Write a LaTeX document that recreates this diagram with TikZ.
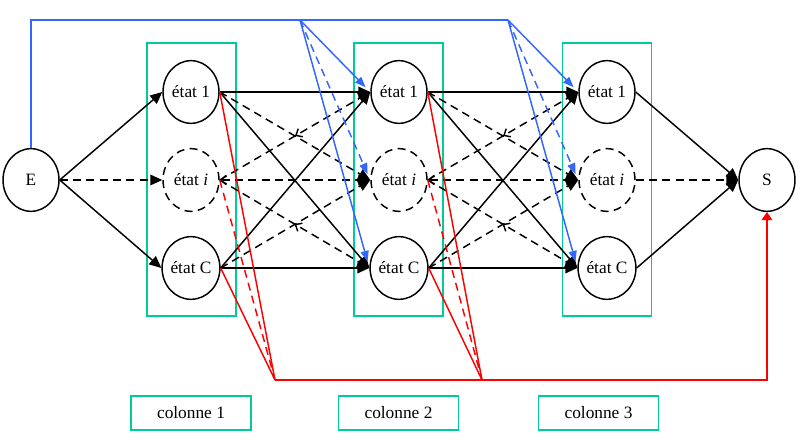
\documentclass[tikz,border=0pt]{standalone}
\usepackage{fontspec}
\setmainfont{Liberation Serif}
\usepackage{tikz}
\usetikzlibrary{arrows.meta,shapes.geometric,decorations.markings}

\definecolor{colgreen}{RGB}{0,204,153}
\definecolor{linkblue}{RGB}{51,102,255}

\begin{document}
\begin{tikzpicture}[>={Triangle[length=9pt,width=8pt]},x=0.75pt,y=-0.75pt,
                    line width=1.1pt,dashed/.style={dash pattern=on 6pt off 4pt},
                    main node/.style={ellipse,draw,minimum width=42pt,minimum height=47pt,
                                      inner sep=0pt,font=\fontsize{13}{15}\selectfont},
                    col box/.style={draw=colgreen,minimum width=66.75pt,minimum height=204.75pt},
                    name box/.style={draw=colgreen,minimum width=90pt,minimum height=25.5pt,
                                     font=\fontsize{13}{15}\selectfont},
                    back/.style={arrows={{Straight Barb[length=4pt,width=7pt]}->}},
                    mid back/.style={postaction={decorate},decoration={markings,
                        mark=at position 0.5 with {\arrowreversed{Straight Barb[length=4pt,width=7pt]}}}}]

      \useasboundingbox (0,0) rectangle (801,441);

      \node[col box] (box1) at (191.5,179.5) {};
      \node[col box] (box2) at (398.5,179.5) {};
      \node[col box] (box3) at (607,179.5) {};

      \node[main node] (E) at (31,180) {E};
      \node[main node] (S) at (767,180) {S};

      \node[main node] (a1) at (191,92) {état 1};
      \node[main node,dashed] (i1) at (191,180) {état \textit{i}};
      \node[main node] (c1) at (191,268) {état C};
      \node[main node] (a2) at (399,92) {état 1};
      \node[main node,dashed] (i2) at (399,180) {état \textit{i}};
      \node[main node] (c2) at (399,268) {état C};
      \node[main node] (a3) at (607,92) {état 1};
      \node[main node,dashed] (i3) at (607,180) {état \textit{i}};
      \node[main node] (c3) at (607,268) {état C};

      \node[name box] (n1) at (191,413) {colonne 1};
      \node[name box] (n2) at (398.5,413) {colonne 2};
      \node[name box] (n3) at (598.5,413) {colonne 3};

      \coordinate (b2) at (300,20);
      \coordinate (b3) at (508,20);
      \coordinate (r2) at (275,380);
      \coordinate (r3) at (482,380);

      \path[->]
        (E.east) edge (a1.west)
        (E.east) edge[dashed] (i1.west)
        (E.east) edge (c1.west)
        (a1.east) edge (a2.west)
        (a1.east) edge (c2.west)
        (a1.east) edge[dashed] (i2.west)
        (i1.east) edge[dashed,back] (i2.west)
        (i1.east) edge[dashed,mid back] (a2.west)
        (i1.east) edge[dashed,mid back] (c2.west)
        (c1.east) edge (a2.west)
        (c1.east) edge (c2.west)
        (c1.east) edge[dashed] (i2.west)
        (a2.east) edge (a3.west)
        (a2.east) edge (c3.west)
        (a2.east) edge[dashed] (i3.west)
        (i2.east) edge[dashed,back] (i3.west)
        (i2.east) edge[dashed,mid back] (a3.west)
        (i2.east) edge[dashed,mid back] (c3.west)
        (c2.east) edge (a3.west)
        (c2.east) edge (c3.west)
        (c2.east) edge[dashed] (i3.west)
        (a3.east) edge (S.west)
        (i3.east) edge[dashed] (S.west)
        (c3.east) edge (S.west);

      % retour vers la sortie
      \path[red]
        (a1.east) edge (r2)
        (i1.east) edge[dashed] (r2)
        (c1.east) edge (r2)
        (a2.east) edge (r3)
        (i2.east) edge[dashed] (r3)
        (c2.east) edge (r3);
      \draw[red,-{Triangle[length=6pt,width=8pt]}] (r2) -- (r3) -| (S.south);

      % saut depuis l'entree
      \draw[linkblue] (E.north) |- (b2) -- (b3);
      \path[linkblue,-{Triangle[length=8pt,width=6pt]},shorten >=5pt]
        (b2) edge (a2.west)
        (b2) edge[dashed] (i2.west)
        (b2) edge (c2.west)
        (b3) edge (a3.west)
        (b3) edge[dashed] (i3.west)
        (b3) edge (c3.west);

    \end{tikzpicture}
\end{document}
